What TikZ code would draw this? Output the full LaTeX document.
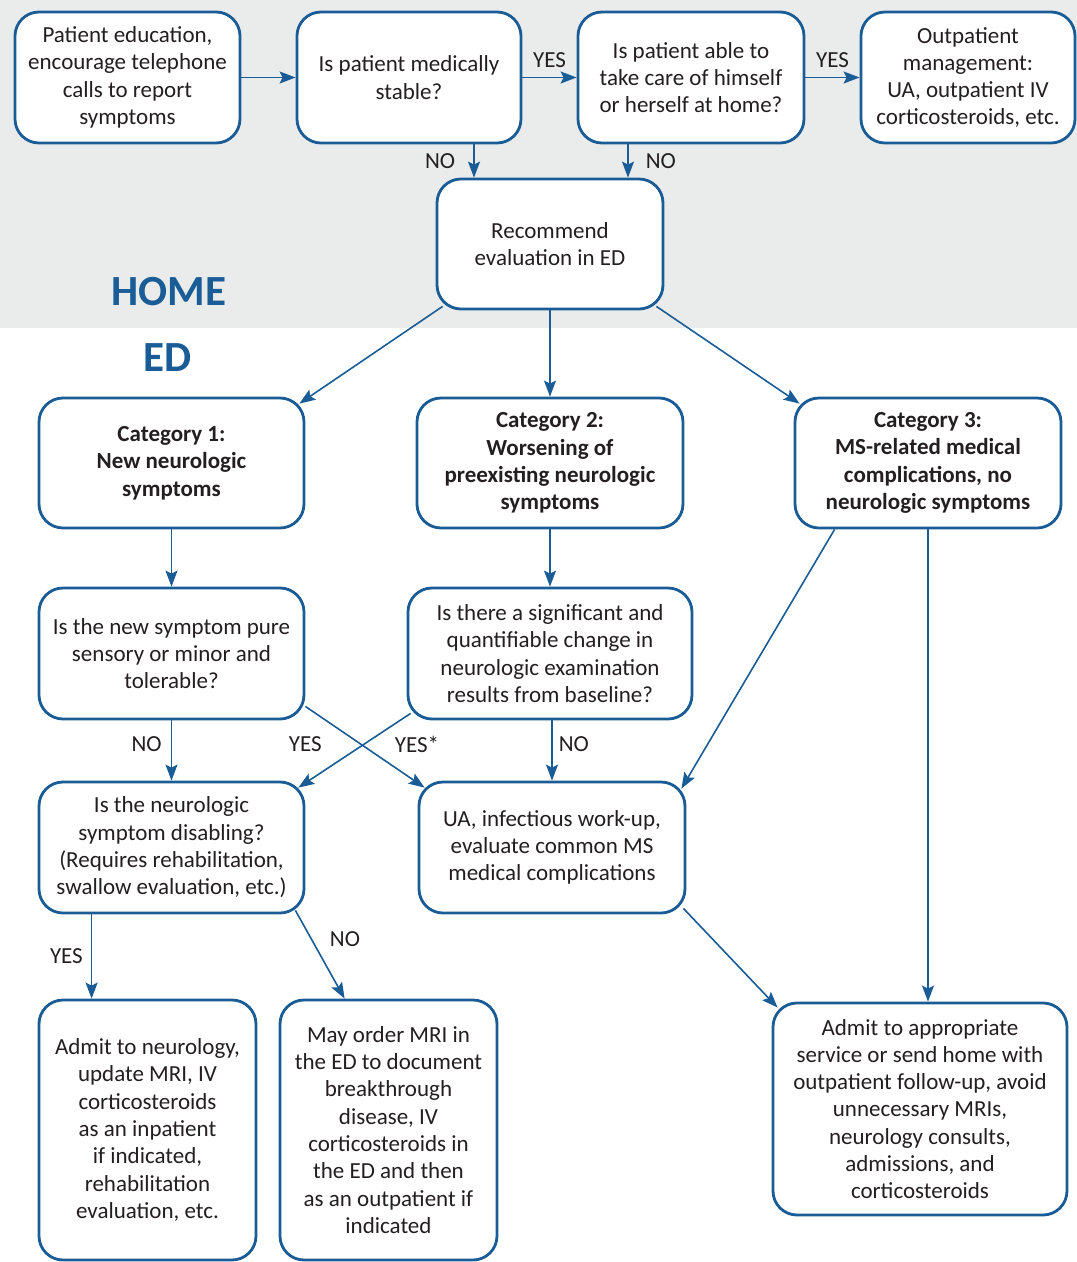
\documentclass[tikz,border=0pt]{standalone}
\usepackage{fontspec}
\setmainfont{Carlito}
\usetikzlibrary{arrows.meta, calc}

\definecolor{msblue}{RGB}{26,92,150}
\definecolor{homegray}{RGB}{234,236,236}
\definecolor{txtdark}{RGB}{35,31,32}

\begin{document}
\begin{tikzpicture}[x=1pt, y=-1pt,
  box/.style={draw=msblue, line width=2.8pt, rounded corners=24pt, fill=white, align=center, inner sep=0pt, text=txtdark, font=\fontsize{23}{27.3}\selectfont},
  catbox/.style={box, font=\fontsize{23}{27.3}\selectfont\bfseries},
  arr/.style={draw=msblue, line width=1.6pt, -{Stealth[length=16pt,width=12pt,inset=3pt]}},
  lbl/.style={text=txtdark, font=\fontsize{23}{27}\selectfont, inner sep=2pt},
  zone/.style={text=msblue, font=\fontsize{43}{43}\selectfont\bfseries}]
\useasboundingbox (0,0) rectangle (1077,1262);

% Home band
\fill[homegray] (0,0) rectangle (1077,328);
\node[zone] (home) at (169,292) {HOME};
\node[zone] (ed) at (168,358) {ED};

% Home boxes
\node[box, minimum width=225pt, minimum height=131pt] (edu) at (127.5,77.5) {Patient education,\\encourage telephone\\calls to report\\symptoms};
\node[box, minimum width=224pt, minimum height=131pt] (stab) at (409,77.5) {Is patient medically\\stable?};
\node[box, minimum width=226pt, minimum height=131pt] (self) at (691,77.5) {Is patient able to\\take care of himself\\or herself at home?};
\node[box, minimum width=214pt, minimum height=131pt] (outp) at (968,77.5) {Outpatient\\management:\\UA, outpatient IV\\corticosteroids, etc.};
\node[box, minimum width=226pt, minimum height=130pt] (rec) at (550,244) {Recommend\\evaluation in ED};

% Categories
\node[catbox, minimum width=265pt, minimum height=130pt] (cat1) at (171.5,463) {Category 1:\\New neurologic\\symptoms};
\node[catbox, minimum width=266pt, minimum height=130pt] (cat2) at (550,463) {Category 2:\\Worsening of\\preexisting neurologic\\symptoms};
\node[catbox, minimum width=266pt, minimum height=130pt] (cat3) at (928,463) {Category 3:\\MS-related medical\\complications, no\\neurologic symptoms};

% Questions
\node[box, minimum width=265pt, minimum height=131pt] (q1) at (171.5,653.5) {Is the new symptom pure\\sensory or minor and\\tolerable?};
\node[box, minimum width=284pt, minimum height=131pt] (q2) at (550,653.5) {Is there a significant and\\quantifiable change in\\neurologic examination\\results from baseline?};
\node[box, minimum width=265pt, minimum height=131pt] (q3) at (171.5,847.5) {Is the neurologic\\symptom disabling?\\(Requires rehabilitation,\\swallow evaluation, etc.)};
\node[box, minimum width=266pt, minimum height=131pt] (ua) at (552,847.5) {UA, infectious work-up,\\evaluate common MS\\medical complications};

% Outcomes
\node[box, minimum width=217pt, minimum height=260pt] (admn) at (147.5,1130) {Admit to neurology,\\update MRI, IV\\corticosteroids\\as an inpatient\\if indicated,\\rehabilitation\\evaluation, etc.};
\node[box, minimum width=217pt, minimum height=260pt] (mri) at (388.5,1130) {May order MRI in\\the ED to document\\breakthrough\\disease, IV\\corticosteroids in\\the ED and then\\as an outpatient if\\indicated};
\node[box, minimum width=294pt, minimum height=212pt] (adm) at (920,1109) {Admit to appropriate\\service or send home with\\outpatient follow-up, avoid\\unnecessary MRIs,\\neurology consults,\\admissions, and\\corticosteroids};

% Home arrows
\draw[arr] (edu) -- (stab);
\draw[arr] (stab) -- node[lbl, above=7pt]{YES} (self);
\draw[arr] (self) -- node[lbl, above=7pt]{YES} (outp);
\draw[arr] ($(stab.south)+(65,0)$) coordinate (stabno) -- (stabno |- rec.north) node[lbl, midway, left=16pt]{NO};
\draw[arr] ($(self.south)+(-63,0)$) coordinate (selfno) -- (selfno |- rec.north) node[lbl, midway, right=15pt]{NO};

% ED arrows
\draw[arr] ($(rec.south west)+(7,-4)$) -- ($(cat1.north east)+(-6,7)$);
\draw[arr] (rec.south) -- (rec.south |- cat2.north);
\draw[arr] ($(rec.south east)+(-8,-4)$) -- ($(cat3.north west)+(6,7)$);
\draw[arr] (cat1) -- (q1);
\draw[arr] (cat2) -- (q2);
\draw[arr] (q1) -- node[lbl, pos=0.4, left=7pt]{NO} (q3);
\draw[arr] ($(q1.south east)+(0,-14)$) -- ($(ua.north west)+(7,7)$) node[lbl, pos=0.25, xshift=-30pt, yshift=-17pt]{YES};
\draw[arr] ($(q2.south west)+(4,-7)$) -- ($(q3.north east)+(-7,7)$) node[lbl, pos=0.3, xshift=40pt, yshift=-9pt]{YES*};
\draw[arr] (ua.north |- q2.south) -- (ua.north) node[lbl, pos=0.4, right=4pt]{NO};
\draw[arr] ($(cat3.south west)+(41,0)$) -- ($(ua.north east)+(-5,8)$);
\draw[arr] (cat3.south) -- (cat3.south |- adm.north);
\draw[arr] ($(ua.south east)+(-3,-6)$) -- ($(adm.north west)+(6,6)$);
\draw[arr] ($(q3.south west)+(54,0)$) coordinate (q3yes) -- (q3yes |- admn.north) node[lbl, midway, left=6pt]{YES};
\draw[arr] ($(q3.south east)+(-10,-4)$) -- ($(mri.north west)+(66,0)$) node[lbl, midway, xshift=25pt, yshift=15pt]{NO};
\end{tikzpicture}
\end{document}
